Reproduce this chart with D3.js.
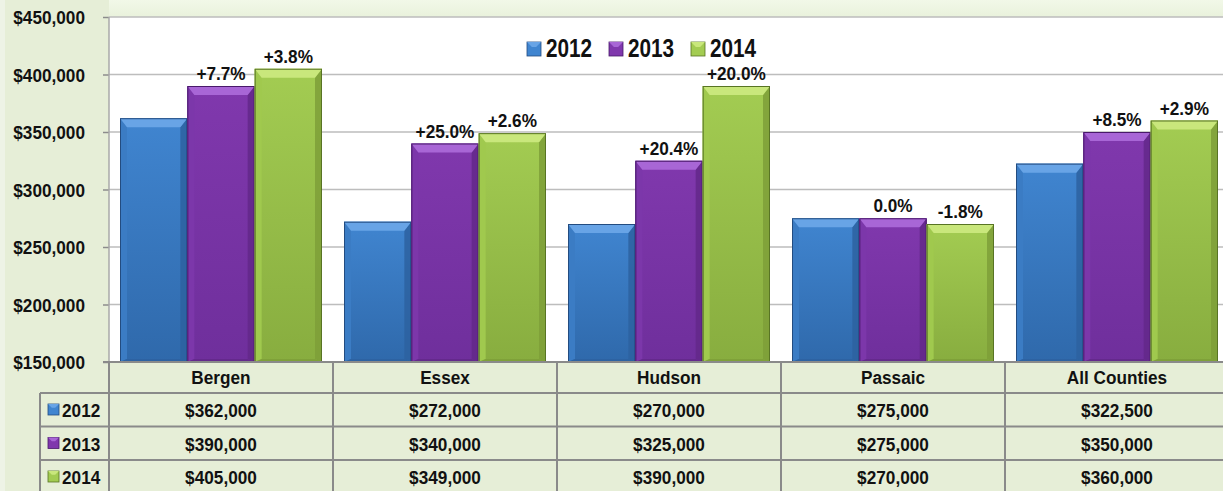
<!DOCTYPE html>
<html>
<head>
<meta charset="utf-8">
<script src="https://cdn.jsdelivr.net/npm/d3@7"></script>
<style>
  html, body { margin: 0; padding: 0; background: #e6eed7; }
  svg { display: block; }
  text { font-family: "Liberation Sans", Arial, sans-serif; font-weight: bold; fill: #111; }
</style>
</head>
<body>
<svg id="chart" width="1223" height="491"></svg>
<script>
// Median sale price by county, 2012–2014
const counties = ["Bergen", "Essex", "Hudson", "Passaic", "All Counties"];
const years = ["2012", "2013", "2014"];
const price2012 = [362000, 272000, 270000, 275000, 322500];
const price2013 = [390000, 340000, 325000, 275000, 350000];
const price2014 = [405000, 349000, 390000, 270000, 360000];
const change2013 = ["+7.7%", "+25.0%", "+20.4%", "0.0%", "+8.5%"];
const change2014 = ["+3.8%", "+2.6%", "+20.0%", "-1.8%", "+2.9%"];
const yTicks = [150000, 200000, 250000, 300000, 350000, 400000, 450000];

const seriesValues = [price2012, price2013, price2014];
const seriesChange = [null, change2013, change2014];

// colour sets: body top/bottom, light facet, side facets, outline
const palette = [
  { top: "#4085d0", bottom: "#2f69ab", light: "#68a4e6", side: "#3b7cc4", dark: "#2d62a0", line: "#234c80" },
  { top: "#8038ad", bottom: "#6f2f9c", light: "#a866d6", side: "#7c37aa", dark: "#632889", line: "#48196a" },
  { top: "#a3cc52", bottom: "#88ad3f", light: "#c9e77c", side: "#a0c94e", dark: "#7e9f38", line: "#587424" }
];

const svg = d3.select("#chart");
const W = 1223, H = 491;
const FS = 18.5, SX = 0.93;   // label font size and horizontal condensing

const plotLeft = 109, plotTop = 17, plotBottom = 362, colWidth = 224;
const plotRight = plotLeft + colWidth * counties.length;

const y = d3.scaleLinear().domain([150000, 450000]).range([plotBottom, plotTop]);
const x = d3.scaleBand().domain(counties).range([plotLeft, plotRight]).padding(0);
const xs = d3.scaleBand().domain(years).range([11, colWidth - 11]).padding(0);

// condensed bold label
function label(g, tx, ty, str, anchor, size, sx) {
  return g.append("text")
    .attr("transform", `translate(${tx},${ty}) scale(${sx || SX},1)`)
    .attr("text-anchor", anchor || "middle")
    .attr("font-size", size || FS)
    .text(str);
}

// backgrounds
const defs = svg.append("defs");
const topGrad = defs.append("linearGradient").attr("id", "topStrip").attr("x1", 0).attr("y1", 0).attr("x2", 0).attr("y2", 1);
topGrad.append("stop").attr("offset", "0%").attr("stop-color", "#f2f8e8");
topGrad.append("stop").attr("offset", "100%").attr("stop-color", "#e9f2dc");

palette.forEach((c, i) => {
  const g = defs.append("linearGradient").attr("id", "body" + i).attr("x1", 0).attr("y1", 0).attr("x2", 0).attr("y2", 1);
  g.append("stop").attr("offset", "0%").attr("stop-color", c.top);
  g.append("stop").attr("offset", "100%").attr("stop-color", c.bottom);
});

svg.append("rect").attr("x", 0).attr("y", 0).attr("width", W).attr("height", H).attr("fill", "#e6eed7");
svg.append("rect").attr("x", 0).attr("y", 0).attr("width", 5).attr("height", H).attr("fill", "#eef3e6");
svg.append("rect").attr("x", plotLeft).attr("y", 0).attr("width", W - plotLeft).attr("height", plotTop).attr("fill", "url(#topStrip)");
svg.append("rect").attr("x", plotLeft).attr("y", plotTop).attr("width", plotRight - plotLeft).attr("height", plotBottom - plotTop).attr("fill", "#ffffff");

// gridlines
svg.append("g").selectAll("line").data(yTicks.slice(1)).join("line")
  .attr("x1", plotLeft).attr("x2", plotRight)
  .attr("y1", d => y(d)).attr("y2", d => y(d))
  .attr("stroke", "#bdbdbd").attr("stroke-width", 1.5);

// y axis: ticks from the axis generator, labels condensed
const yAxis = d3.axisLeft(y).tickValues(yTicks).tickSize(6)
  .tickFormat(d => "$" + d3.format(",")(d));
const gy = svg.append("g").attr("transform", `translate(${plotLeft},0)`).call(yAxis);
gy.select(".domain").remove();
gy.selectAll(".tick line").attr("stroke", "#8c8c8c").attr("stroke-width", 1.5);
gy.selectAll(".tick text").remove();
gy.selectAll(".tick").each(function (d) {
  label(d3.select(this), -24, 6.5, "$" + d3.format(",")(d), "end");
});
svg.append("line").attr("x1", plotLeft).attr("x2", plotLeft).attr("y1", plotTop).attr("y2", plotBottom)
  .attr("stroke", "#a8a8a8").attr("stroke-width", 1.5);

// bevelled bars
function drawBar(g, x0, w, yTop, yBot, c, i) {
  const b = Math.min(9, (yBot - yTop) / 2);
  const s = 7;
  g.append("rect").attr("x", x0).attr("y", yTop).attr("width", w).attr("height", yBot - yTop).attr("fill", `url(#body${i})`);
  g.append("polygon").attr("points",
    [[x0, yTop], [x0 + s, yTop + b], [x0 + s, yBot - 3], [x0, yBot]].join(" "))
    .attr("fill", c.side);
  g.append("polygon").attr("points",
    [[x0 + w, yTop], [x0 + w - s, yTop + b], [x0 + w - s, yBot - 3], [x0 + w, yBot]].join(" "))
    .attr("fill", c.dark).attr("opacity", 0.85);
  g.append("polygon").attr("points",
    [[x0, yTop], [x0 + w, yTop], [x0 + w - s, yTop + b], [x0 + s, yTop + b]].join(" "))
    .attr("fill", c.light);
  g.append("polygon").attr("points",
    [[x0, yBot], [x0 + s, yBot - 3], [x0 + w - s, yBot - 3], [x0 + w, yBot]].join(" "))
    .attr("fill", c.dark).attr("opacity", 0.85);
  g.append("rect").attr("x", x0 + 0.5).attr("y", yTop + 0.5).attr("width", w - 1).attr("height", yBot - yTop - 1)
    .attr("fill", "none").attr("stroke", c.line).attr("stroke-width", 1);
}

const barsG = svg.append("g");
seriesValues.forEach((vals, si) => {
  vals.forEach((v, ci) => {
    const x0 = x(counties[ci]) + xs(years[si]);
    drawBar(barsG, x0, xs.bandwidth(), y(v), y(150000), palette[si], si);
  });
});

// change labels above 2013 and 2014 bars
const labG = svg.append("g");
seriesValues.forEach((vals, si) => {
  if (!seriesChange[si]) return;
  vals.forEach((v, ci) => {
    label(labG, x(counties[ci]) + xs(years[si]) + xs.bandwidth() / 2, y(v) - 6, seriesChange[si][ci]);
  });
});

// legend icon
function icon(g, x0, y0, size, c) {
  g.append("rect").attr("x", x0).attr("y", y0).attr("width", size).attr("height", size).attr("fill", c.top)
    .attr("stroke", c.line).attr("stroke-width", 0.8);
  const b = size * 0.35;
  g.append("polygon").attr("points",
    [[x0, y0], [x0 + size, y0], [x0 + size - b, y0 + b], [x0 + b, y0 + b]].join(" ")).attr("fill", c.light);
}

// legend
const legG = svg.append("g");
years.forEach((yr, i) => {
  const lx = 527 + i * 82;
  icon(legG, lx, 42, 14, palette[i]);
  label(legG, lx + 19, 57, yr, "start", 25, 0.83);
});

// data table
const headerBottom = 393, rowH = 33.5;
const tableG = svg.append("g");
counties.forEach((c, ci) => {
  label(tableG, x(c) + colWidth / 2, 384, c);
  seriesValues.forEach((vals, si) => {
    label(tableG, x(c) + colWidth / 2, headerBottom + rowH * si + 24, "$" + d3.format(",")(vals[ci]));
  });
});
years.forEach((yr, si) => {
  const ry = headerBottom + rowH * si;
  icon(tableG, 48, ry + 11, 11, palette[si]);
  label(tableG, 62, ry + 24, yr, "start");
});

const gridColor = "#8a8a8a";
tableG.append("line").attr("x1", plotLeft - 6).attr("x2", plotRight).attr("y1", plotBottom).attr("y2", plotBottom)
  .attr("stroke", gridColor).attr("stroke-width", 2);
[0, 1, 2].forEach(i => {
  const ly = headerBottom + rowH * i;
  tableG.append("line").attr("x1", 40).attr("x2", plotRight).attr("y1", ly).attr("y2", ly)
    .attr("stroke", gridColor).attr("stroke-width", 2);
});
counties.forEach(c => {
  tableG.append("line").attr("x1", x(c)).attr("x2", x(c)).attr("y1", plotBottom).attr("y2", H)
    .attr("stroke", gridColor).attr("stroke-width", 2);
});
tableG.append("line").attr("x1", 40).attr("x2", 40).attr("y1", headerBottom).attr("y2", H)
  .attr("stroke", gridColor).attr("stroke-width", 2);
</script>
</body>
</html>
